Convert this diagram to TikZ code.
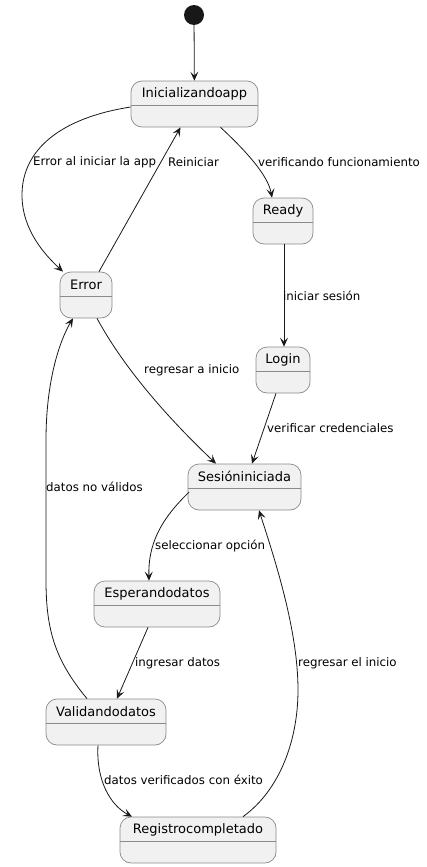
\documentclass[tikz,border=0pt]{standalone}
\usepackage{fontspec}
\setmainfont{DejaVu Sans}
\usetikzlibrary{arrows.meta}
\definecolor{boxfill}{HTML}{F1F1F1}
\definecolor{boxline}{HTML}{8A8A8A}
\definecolor{edgecol}{HTML}{181818}
\tikzset{
  statebox/.style={draw=boxline, fill=boxfill, line width=0.7pt, rounded corners=11pt, minimum height=46pt, inner sep=0pt},
  statename/.style={font=\fontsize{13}{15}\selectfont, inner sep=0pt},
  edgelabel/.style={font=\fontsize{11.8}{14}\selectfont, inner sep=0pt, anchor=west},
  trans/.style={draw=edgecol, line width=0.8pt, -{Stealth[length=9pt,width=8pt,inset=4pt]}},
}
\newcommand{\mkstate}[5]{%
  \node[statebox, minimum width=#4pt] (#1) at (#2,#3) {};
  \node[statename] (#1-t) at (#2,#3-10.5) {#5};
  \draw[boxline, line width=0.7pt] ([yshift=-1pt]#1.west) -- ([yshift=-1pt]#1.east);
}
\begin{document}
\begin{tikzpicture}[x=1pt,y=-1pt]
\useasboundingbox (0,0) rectangle (427,867);
\node[circle, fill=edgecol, minimum size=20pt, inner sep=0pt] (start) at (194,15) {};
\mkstate{init}{194.5}{104}{127}{Inicializandoapp}
\mkstate{ready}{283}{221}{60}{Ready}
\mkstate{error}{86}{295}{52}{Error}
\mkstate{login}{283}{370}{54}{Login}
\mkstate{sesion}{244.5}{487}{113}{Sesióniniciada}
\mkstate{esper}{157}{604}{126}{Esperandodatos}
\mkstate{valid}{106}{722}{120}{Validandodatos}
\mkstate{regis}{198}{840}{156}{Registrocompletado}

% coordinates on box borders
\coordinate (e2s) at ([yshift=-3pt]init.west);
\coordinate (e2e) at ([xshift=-23pt]error.north);
\coordinate (e3s) at ([xshift=13pt]error.north);
\coordinate (e3e) at ([xshift=-14pt]init.south);
\coordinate (e4s) at ([xshift=26pt]init.south);
\coordinate (e4e) at ([xshift=-11pt]ready.north);
\coordinate (e5s) at ([xshift=1pt]ready.south);
\coordinate (e5e) at ([xshift=1pt]login.north);
\coordinate (e6s) at ([xshift=-7pt]login.south);
\coordinate (e6e) at ([xshift=7.5pt]sesion.north);
\coordinate (e7s) at ([xshift=11pt]error.south);
\coordinate (e7e) at ([xshift=-28.5pt]sesion.north);
\coordinate (e8s) at ([shift={(1.5pt,-5pt)}]sesion.west);
\coordinate (e8e) at ([xshift=-8pt]esper.north);
\coordinate (e9s) at ([xshift=-9pt]esper.south);
\coordinate (e9e) at ([xshift=11pt]valid.north);
\coordinate (e10s) at ([xshift=-19pt]valid.north);
\coordinate (e10e) at ([xshift=-13pt]error.south);
\coordinate (e11s) at ([xshift=-8pt]valid.south);
\coordinate (e11e) at ([xshift=-66pt]regis.north);
\coordinate (e12s) at ([xshift=45pt]regis.north);
\coordinate (e12e) at ([xshift=14.5pt]sesion.south);

\draw[trans] (start) -- (init);
\draw[trans] (e2s) .. controls (60,118) and (22,150) .. (22,195) .. controls (22,230) and (45,255) .. (e2e);
\draw[trans] (e3s) -- (e3e);
\draw[trans] (e4s) .. controls (245,150) and (268,175) .. (e4e);
\draw[trans] (e5s) -- (e5e);
\draw[trans] (e6s) -- (e6e);
\draw[trans] (e7s) .. controls (125,370) and (170,420) .. (e7e);
\draw[trans] (e8s) .. controls (160,520) and (148,545) .. (e8e);
\draw[trans] (e9s) -- (e9e);
\draw[trans] (e10s) .. controls (55,660) and (46,630) .. (46,580) -- (46,440) .. controls (46,380) and (60,340) .. (e10e);
\draw[trans] (e11s) .. controls (96,780) and (110,805) .. (e11e);
\draw[trans] (e12s) .. controls (280,790) and (298,740) .. (298,690) .. controls (298,630) and (275,560) .. (e12e);

\node[edgelabel] (l2) at (33,162) {Error al iniciar la app};
\node[edgelabel] (l3) at (168,162) {Reiniciar};
\node[edgelabel] (l4) at (258,162) {verificando funcionamiento};
\node[edgelabel] (l5) at (283,296) {iniciar sesión};
\node[edgelabel] (l6) at (267,428) {verificar credenciales};
\node[edgelabel] (l7) at (144,370) {regresar a inicio};
\node[edgelabel] (l8) at (155,546) {seleccionar opción};
\node[edgelabel] (l9) at (135,663) {ingresar datos};
\node[edgelabel] (l10) at (46,487) {datos no válidos};
\node[edgelabel] (l11) at (104,780) {datos verificados con éxito};
\node[edgelabel] (l12) at (298,663) {regresar el inicio};
\end{tikzpicture}
\end{document}
